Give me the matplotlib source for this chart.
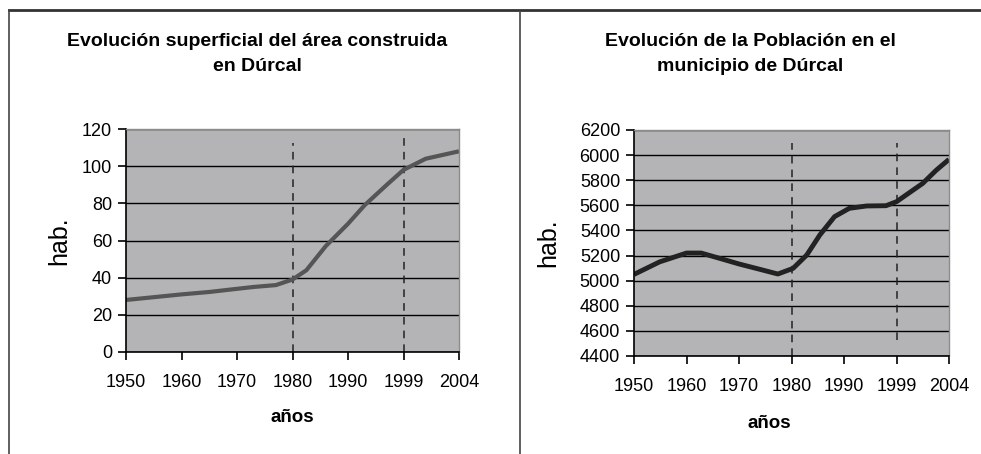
import matplotlib
matplotlib.use('Agg')
from matplotlib import pyplot as plt
from matplotlib.lines import Line2D

plt.rcParams['font.family'] = ['Liberation Sans', 'DejaVu Sans']

# categories on the x axis
years = ['1950', '1960', '1970', '1980', '1990', '1999', '2004']

# built-up area (positions are category index)
area_pos = [0, 0.5, 1.0, 1.5, 2.0, 2.3, 2.7, 3.0, 3.25, 3.6, 4.0, 4.3, 4.7, 5.0, 5.4, 6.0]
area_val = [28, 29.5, 31, 32.3, 34, 35, 36, 39, 44, 57, 69, 79, 90, 98, 104, 108]

# population
pop_pos = [0, 0.49, 1.0, 1.28, 1.63, 2.0, 2.4, 2.74, 3.03, 3.29, 3.54, 3.82, 4.1, 4.43, 4.8, 5.0, 5.5, 5.76, 6.0]
pop_val = [5050, 5150, 5220, 5220, 5178, 5133, 5090, 5053, 5098, 5204, 5364, 5510, 5576, 5595, 5597, 5629, 5775, 5881, 5966]

W, H = 981, 454
fig = plt.figure(figsize=(W / 100, H / 100), dpi=100)


def fx(px):
    return px / W


def fy(py):
    return 1 - py / H


def setup(ax, ylim, ystep, dash_top, dash_bottom):
    ax.set_facecolor('#b4b4b6')
    ax.set_xlim(0, 6)
    ax.set_ylim(*ylim)
    ax.set_yticks(range(ylim[0], ylim[1] + 1, ystep))
    ax.set_xticks(range(len(years)))
    ax.set_xticklabels(years)
    ax.yaxis.grid(True, color='black', linewidth=1)
    ax.set_axisbelow(True)
    for s in ['top', 'right']:
        ax.spines[s].set_color('#8c8c8c')
        ax.spines[s].set_linewidth(1)
    for s in ['left', 'bottom']:
        ax.spines[s].set_color('black')
        ax.spines[s].set_linewidth(1.2)
    ax.tick_params(axis='both', direction='out', length=6, width=1.2,
                   labelsize=13, colors='black')
    ax.tick_params(axis='x', pad=10)
    ax.tick_params(axis='y', pad=4)
    for i, (t, b) in zip([3, 5], zip(dash_top, dash_bottom)):
        ax.axvline(i, ymin=b, ymax=t, color='#222222', linestyle=(0, (5, 4)), linewidth=1.1)


# left chart
ax1 = fig.add_axes([fx(126), fy(352), fx(459) - fx(126), fy(129) - fy(352)])
setup(ax1, (0, 120), 20, [0.937, 0.96], [0, 0])
ax1.plot(area_pos, area_val, color='#555555', linewidth=3, solid_capstyle='butt')
ax1.set_ylabel('hab.', fontsize=18)
ax1.yaxis.set_label_coords(-0.165, 0.5)
ax1.set_xlabel('años', fontsize=13.5, fontweight='bold')
ax1.xaxis.set_label_coords(0.5, -0.255)

# right chart
ax2 = fig.add_axes([fx(634), fy(356), fx(949) - fx(634), fy(130) - fy(356)])
setup(ax2, (4400, 6200), 200, [0.942, 0.942], [0, 0.07])
ax2.plot(pop_pos, pop_val, color='#222222', linewidth=3.5, solid_capstyle='butt')
ax2.set_ylabel('hab.', fontsize=18)
ax2.yaxis.set_label_coords(-0.235, 0.5)
ax2.set_xlabel('años', fontsize=13.5, fontweight='bold')
ax2.xaxis.set_label_coords(0.43, -0.26)

# titles
fig.text(fx(257), fy(54), 'Evolución superficial del área construida\nen Dúrcal',
         ha='center', va='center', fontsize=14, fontweight='bold', linespacing=1.65)
fig.text(fx(750), fy(54), 'Evolución de la Población en el\nmunicipio de Dúrcal',
         ha='center', va='center', fontsize=14, fontweight='bold', linespacing=1.65)

# frame lines
fig.add_artist(Line2D([fx(9), 1], [fy(10), fy(10)], color='#333333', linewidth=2))
fig.add_artist(Line2D([fx(9), fx(9)], [fy(10), 0], color='#444444', linewidth=1.2))
fig.add_artist(Line2D([fx(520), fx(520)], [fy(10), 0], color='#444444', linewidth=1.2))

fig.savefig('out.png', dpi=100)
